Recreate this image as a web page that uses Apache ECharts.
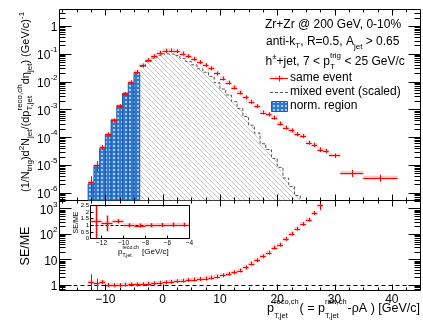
<!DOCTYPE html>
<html><head><meta charset="utf-8">
<script src="https://cdn.jsdelivr.net/npm/echarts@6/dist/echarts.min.js"></script>
<style>html,body{margin:0;padding:0;background:#fff}#c{width:423px;height:325px}</style>
</head><body><div id="c"></div>
<script>
// ---------------- DATA ----------------
// same-event spectrum: bin edges (GeV/c), values and stat. errors
const seBinLo = [-13,-12,-11,-10,-9,-8,-7,-6,-5,-4,-3,-2,-1,0,1,2,3,4,5,6,7,8,9,10,11,12,13,14,15,16,17,18,19,20,21,22,23,24,25,26,27,28,29,31,35];
const seBinHi = [-12,-11,-10,-9,-8,-7,-6,-5,-4,-3,-2,-1,0,1,2,3,4,5,6,7,8,9,10,11,12,13,14,15,16,17,18,19,20,21,22,23,24,25,26,27,28,29,31,35,41];
const seVal = [2.4e-6,9.8e-6,4.4e-5,1.26e-4,4.0e-4,1.3e-3,3.6e-3,9.5e-3,0.022,0.038,0.059,0.082,0.109,0.128,0.131,0.124,0.102,0.082,0.066,0.050,0.039,0.030,0.0196,0.0129,0.0091,0.0061,0.0040,0.0027,0.00188,0.00131,7.7e-4,6.6e-4,5.0e-4,3.1e-4,2.2e-4,1.75e-4,1.28e-4,1.09e-4,6.3e-5,5.3e-5,3.6e-5,3.2e-5,2.2e-5,5.2e-6,3.5e-6];
const seErr = [1.5e-6,4e-6,9e-6,1.5e-5,3e-5,6e-5,1.2e-4,2.5e-4,5e-4,7e-4,9e-4,1e-3,1.2e-3,1.3e-3,1.3e-3,1.2e-3,1.1e-3,9e-4,8e-4,7e-4,6e-4,5e-4,4e-4,3e-4,2.5e-4,2e-4,1.5e-4,1.2e-4,9e-5,7e-5,5e-5,4.5e-5,4e-5,3e-5,2.5e-5,2e-5,1.6e-5,1.4e-5,1.0e-5,9e-6,7e-6,6e-6,4e-6,1.5e-6,1.0e-6];
// mixed-event spectrum (scaled), 1 GeV bins from -13 to 25
const mixBinLo = [-13,-12,-11,-10,-9,-8,-7,-6,-5,-4,-3,-2,-1,0,1,2,3,4,5,6,7,8,9,10,11,12,13,14,15,16,17,18,19,20,21,22,23,24];
const mixVal = [2.1e-6,9.6e-6,3.8e-5,1.26e-4,4.2e-4,1.35e-3,3.8e-3,9.3e-3,0.021,0.035,0.053,0.070,0.089,0.100,0.098,0.088,0.069,0.053,0.040,0.029,0.0217,0.0154,0.0091,0.0054,0.0033,0.0019,0.00108,5.5e-4,2.7e-4,1.41e-4,5.8e-5,3.6e-5,1.72e-5,8.2e-6,3.4e-6,1.7e-6,8.0e-7,4.4e-7];
const mixBinWidth = 1;
const normLo = -13, normHi = -4;
// SE/ME ratio, 1 GeV bins from -13 to 28
const ratioBinLo = [-13,-12,-11,-10,-9,-8,-7,-6,-5,-4,-3,-2,-1,0,1,2,3,4,5,6,7,8,9,10,11,12,13,14,15,16,17,18,19,20,21,22,23,24,25,26,27];
const ratioVal = [1.3,1.15,1.3,1.0,0.98,1.0,1.03,1.05,1.05,1.08,1.12,1.17,1.22,1.28,1.34,1.41,1.48,1.56,1.64,1.72,1.8,1.95,2.15,2.4,2.75,3.15,3.7,4.9,6.9,9.3,13.3,18.5,29,38,64,103,161,246,362,660,1310];
const ratioErr = [1.35,0.6,0.15,0.06,0.04,0.03,0.03,0.03,0.03,0.03,0.03,0.03,0.03,0.03,0.03,0.03,0.03,0.04,0.04,0.04,0.05,0.05,0.06,0.07,0.08,0.1,0.13,0.18,0.26,0.4,0.6,0.9,1.6,2.4,4.5,8,14,22,40,110,450];
const ratioBinWidth = 1;
// axis ticks
const xMajorTicks = [-10,0,10,20,30,40];
const xMinorTicks = [-17.5,-15,-12.5,-7.5,-5,-2.5,2.5,5,7.5,12.5,15,17.5,22.5,25,27.5,32.5,35,37.5,42.5];

// ---------------- STYLE / LAYOUT ----------------
const FONT = '"Liberation Sans", Arial, Helvetica, sans-serif';
const XMIN = -18, XMAX = 45;
const Y0MIN = 5.28e-7, Y0MAX = 3.92;
const Y1MIN = 0.61, Y1MAX = 2050;
const RED = '#ff0000';

function mkPattern(w, h, draw) {
  const c = document.createElement('canvas'); c.width = w; c.height = h;
  const g = c.getContext('2d'); draw(g, w, h);
  return { image: c, repeat: 'repeat' };
}
const bluePat = mkPattern(4, 4, g => {
  g.fillStyle = '#2f78d2'; g.fillRect(0, 0, 4, 4);
  g.fillStyle = '#a9cdf2'; g.fillRect(1, 1, 2, 2);
});
const grayPat = mkPattern(5, 5, g => {
  g.fillStyle = '#fff'; g.fillRect(0, 0, 5, 5);
  g.strokeStyle = '#b8b8b8'; g.lineWidth = 0.8;
  g.beginPath(); g.moveTo(-1, -1); g.lineTo(6, 6); g.moveTo(-1, 4); g.lineTo(1, 6); g.moveTo(4, -1); g.lineTo(6, 1); g.stroke();
});

const mctx = document.createElement('canvas').getContext('2d');
function tw(t, s) { mctx.font = s + 'px ' + FONT; return mctx.measureText(t).width; }
function layout(parts, x0, yb, align) {
  let x = 0; const els = [];
  parts.forEach(p => {
    if (p.t !== undefined) { els.push({ x, dy: p.dy || 0, t: p.t, s: p.s }); x += tw(p.t, p.s); }
    else {
      const w = Math.max(p.sub ? tw(p.sub, p.s) : 0, p.sup ? tw(p.sup, p.s) : 0);
      if (p.sub) els.push({ x, dy: p.dsub, t: p.sub, s: p.s });
      if (p.sup) els.push({ x, dy: p.dsup, t: p.sup, s: p.s });
      x += w + (p.gap || 0);
    }
  });
  const off = align === 'right' ? -x : align === 'center' ? -x / 2 : 0;
  return els.map(e => ({ type: 'text', x: x0 + off + e.x, y: yb + e.dy - 0.34 * e.s,
    style: { text: e.t, font: e.s + 'px ' + FONT, fill: '#000', textAlign: 'left', textVerticalAlign: 'middle' } }));
}

function powLabel(v) {
  const l = Math.log10(v), n = Math.round(l);
  if (Math.abs(l - n) > 1e-6) return '';
  if (n === 0) return '{b|1}';
  if (n === 1) return '{b|10}';
  return '{b|10}{s|' + n + '}';
}
const powRich = {
  b: { fontSize: 12, fontFamily: FONT, color: '#000', lineHeight: 16, verticalAlign: 'bottom' },
  s: { fontSize: 8, fontFamily: FONT, color: '#000', lineHeight: 9, verticalAlign: 'top' }
};
const minus = v => (v < 0 ? '\u2212' + (-v) : String(v));

function pointRender(yMin, yMax, lw) {
  return function (params, api) {
    const lo = api.value(0), hi = api.value(1), v = api.value(2), e = api.value(3);
    const c = api.coord([(lo + hi) / 2, v]);
    const xl = api.coord([lo, v])[0], xr = api.coord([hi, v])[0];
    const yt = api.coord([lo, Math.min(v + e, yMax)])[1];
    const yb = api.coord([lo, Math.max(v - e, yMin)])[1];
    const cy = Math.round(c[1]) + 0.5, cx = Math.round(c[0]) + 0.5;
    return { type: 'group', children: [
      { type: 'rect', shape: { x: xl, y: c[1] - 2, width: xr - xl, height: 4 }, style: { fill: 'rgba(255,0,0,0.22)' } },
      { type: 'line', shape: { x1: xl, y1: cy, x2: xr, y2: cy }, style: { stroke: RED, lineWidth: 1 } },
      { type: 'line', shape: { x1: cx, y1: Math.min(yt, c[1] - 2), x2: cx, y2: Math.max(yb, c[1] + 2) }, style: { stroke: RED, lineWidth: lw || 1 } }
    ] };
  };
}

function tickRender(ymin, ymax, majY, minY, majX, minX) {
  return function (params, api) {
    const kids = [];
    const L = (x1, y1, x2, y2) => kids.push({ type: 'line', shape: { x1, y1, x2, y2 }, style: { stroke: '#000', lineWidth: 1 } });
    const xl = api.coord([XMIN, ymin])[0], xr = api.coord([XMAX, ymin])[0];
    const yb = api.coord([XMIN, ymin])[1], yt = api.coord([XMIN, ymax])[1];
    for (let n = -8; n <= 4; n++) for (let k = 1; k <= 9; k++) {
      const v = k * Math.pow(10, n);
      if (v < ymin || v > ymax) continue;
      const y = Math.round(api.coord([XMIN, v])[1]) + 0.5;
      const len = k === 1 ? majY : minY;
      L(xl, y, xl + len, y); L(xr - len, y, xr, y);
    }
    xMajorTicks.forEach(t => { const x = Math.round(api.coord([t, ymin])[0]) + 0.5; L(x, yt, x, yt + majX); L(x, yb - majX, x, yb); });
    xMinorTicks.forEach(t => { const x = Math.round(api.coord([t, ymin])[0]) + 0.5; L(x, yt, x, yt + minX); L(x, yb - minX, x, yb); });
    return { type: 'group', children: kids };
  };
}

const seData = seBinLo.map((lo, i) => [lo, seBinHi[i], seVal[i], seErr[i]]);
const ratioData = ratioBinLo.map((lo, i) => [lo, lo + ratioBinWidth, ratioVal[i], ratioErr[i]]);
const insetData = ratioData.filter(d => d[0] >= normLo && d[1] <= normHi);
const mixData = mixBinLo.map((lo, i) => [lo, lo + mixBinWidth, mixVal[i]]);
const normData = mixData.filter(d => d[0] >= normLo && d[1] <= normHi);
const hatchData = mixData.filter(d => d[0] >= normHi);

const noAx = { axisLine: { show: false }, axisTick: { show: false }, splitLine: { show: false } };

const option = {
  animation: false,
  backgroundColor: '#fff',
  grid: [
    { left: 59.5, top: 9.5, width: 361, height: 191, show: true, borderColor: '#000', borderWidth: 1, backgroundColor: '#fff' },
    { left: 59.5, top: 200.5, width: 361, height: 90, show: true, borderColor: '#000', borderWidth: 1, backgroundColor: 'transparent' },
    { left: 90.5, top: 205.5, width: 99, height: 33, show: true, borderColor: '#000', borderWidth: 1, backgroundColor: '#fff' }
  ],
  xAxis: [
    Object.assign({ gridIndex: 0, type: 'value', min: XMIN, max: XMAX, axisLabel: { show: false } }, noAx),
    Object.assign({ gridIndex: 1, type: 'value', min: XMIN, max: XMAX,
      axisLabel: { show: true, fontSize: 12, fontFamily: FONT, color: '#000', margin: 3, showMinLabel: false, showMaxLabel: false,
        formatter: v => (Math.abs(v % 10) < 1e-9 ? minus(v) : '') } }, noAx),
    { gridIndex: 2, type: 'value', min: -13, max: -4, splitNumber: 4, axisLine: { show: false }, splitLine: { show: false },
      axisTick: { show: true, inside: true, length: 3, lineStyle: { color: '#000', width: 1 } },
      minorTick: { show: false },
      axisLabel: { fontSize: 6.5, fontFamily: FONT, color: '#000', margin: 1.5, showMinLabel: false, formatter: v => minus(v) } }
  ],
  yAxis: [
    Object.assign({ gridIndex: 0, type: 'log', logBase: 10, min: Y0MIN, max: Y0MAX,
      axisLabel: { margin: 2, formatter: powLabel, rich: powRich, showMinLabel: false, showMaxLabel: false } }, noAx),
    Object.assign({ gridIndex: 1, type: 'log', logBase: 10, min: Y1MIN, max: Y1MAX,
      axisLabel: { margin: 2, formatter: powLabel, rich: powRich, showMinLabel: false, showMaxLabel: false } }, noAx),
    { gridIndex: 2, type: 'value', min: 0, max: 2.5, interval: 0.5, axisLine: { show: false }, splitLine: { show: false },
      axisTick: { show: true, inside: true, length: 3, lineStyle: { color: '#000', width: 1 } },
      axisLabel: { fontSize: 6, lineHeight: 6, fontFamily: FONT, color: '#000', margin: 1.5, hideOverlap: false } }
  ],
  series: [
    // gray hatched mixed-event region
    { type: 'custom', xAxisIndex: 0, yAxisIndex: 0, clip: true, silent: true, data: hatchData, z: 1,
      renderItem: (p, api) => {
        const a = api.coord([api.value(0), Math.max(api.value(2), Y0MIN)]);
        const b = api.coord([api.value(1), Y0MIN]);
        return { type: 'rect', shape: { x: a[0], y: a[1], width: b[0] - a[0] + 0.3, height: b[1] - a[1] }, style: { fill: grayPat } };
      } },
    // dashed outline of mixed-event histogram
    { type: 'custom', xAxisIndex: 0, yAxisIndex: 0, clip: true, silent: true, data: [[0]], z: 2,
      renderItem: (p, api) => {
        const pts = [];
        hatchData.forEach(d => {
          const v = Math.max(d[2], Y0MIN * 0.5);
          pts.push(api.coord([d[0], v])); pts.push(api.coord([d[1], v]));
        });
        return { type: 'polyline', shape: { points: pts }, style: { stroke: '#555', lineWidth: 1, lineDash: [3, 2], fill: null } };
      } },
    // blue normalisation region
    { type: 'custom', xAxisIndex: 0, yAxisIndex: 0, clip: true, silent: true, data: normData, z: 3,
      renderItem: (p, api) => {
        const a = api.coord([api.value(0), api.value(2)]);
        const b = api.coord([api.value(1), Y0MIN]);
        return { type: 'rect', shape: { x: a[0], y: a[1], width: b[0] - a[0], height: b[1] - a[1] }, style: { fill: bluePat, stroke: '#1d5cae', lineWidth: 1 } };
      } },
    // same event points
    { type: 'custom', xAxisIndex: 0, yAxisIndex: 0, clip: true, silent: true, data: seData, z: 5, renderItem: pointRender(Y0MIN, Y0MAX) },
    // ratio points
    { type: 'custom', xAxisIndex: 1, yAxisIndex: 1, clip: true, silent: true, data: ratioData, z: 5, renderItem: pointRender(Y1MIN, Y1MAX) },
    // dashed unity line, bottom panel
    { type: 'custom', xAxisIndex: 1, yAxisIndex: 1, silent: true, data: [[0]], z: 4,
      renderItem: (p, api) => {
        const a = api.coord([XMIN, 1]), b = api.coord([XMAX, 1]); const y = Math.round(a[1]) + 0.5;
        return { type: 'line', shape: { x1: a[0], y1: y, x2: b[0], y2: y }, style: { stroke: '#000', lineWidth: 1, lineDash: [4, 3] } };
      } },
    // frame ticks
    { type: 'custom', xAxisIndex: 0, yAxisIndex: 0, silent: true, data: [[0]], z: 6, renderItem: tickRender(Y0MIN, Y0MAX, 12, 6, 6, 3) },
    { type: 'custom', xAxisIndex: 1, yAxisIndex: 1, silent: true, data: [[0]], z: 6, renderItem: tickRender(Y1MIN, Y1MAX, 12, 6, 6, 3) },
    // inset dashed line at 1
    { type: 'custom', xAxisIndex: 2, yAxisIndex: 2, silent: true, data: [[0]], z: 7,
      renderItem: (p, api) => {
        const a = api.coord([-13, 1]), b = api.coord([-4, 1]); const y = Math.round(a[1]) + 0.5;
        return { type: 'line', shape: { x1: a[0], y1: y, x2: b[0], y2: y }, style: { stroke: '#000', lineWidth: 1, lineDash: [3, 2] } };
      } },
    // inset ratio points
    { type: 'custom', xAxisIndex: 2, yAxisIndex: 2, clip: true, silent: true, data: insetData, z: 8, renderItem: pointRender(0, 2.5, 1.5) }
  ],
  graphic: []
};

// ---------------- TEXT ----------------
const G = option.graphic;
const T = (parts, x, y, align) => layout(parts, x, y, align).forEach(e => G.push(e));
T([{ t: 'Zr+Zr @ 200 GeV, 0-10%', s: 12 }], 265, 29);
T([{ t: 'anti-k', s: 12 }, { sub: 'T', s: 8, dsub: 3 }, { t: ', R=0.5, A', s: 12 }, { sub: 'jet', s: 8, dsub: 3.5 }, { t: ' > 0.65', s: 12 }], 266, 46);
T([{ t: 'h', s: 12 }, { sup: '\u00b1', s: 8, dsup: -6 }, { t: '+jet, 7 < p', s: 12 }, { sub: 'T', sup: 'trig', s: 8, dsub: 3.5, dsup: -7 }, { t: ' < 25 GeV/c', s: 12 }], 265.5, 66);
T([{ t: 'same event', s: 12 }], 290, 81.5);
T([{ t: 'mixed event (scaled)', s: 12 }], 290, 95.5);
T([{ t: 'norm. region', s: 12 }], 290, 109.5);
// legend symbols
G.push({ type: 'rect', shape: { x: 275, y: 76, width: 8, height: 4 }, style: { fill: 'rgba(255,0,0,0.22)' } });
G.push({ type: 'line', shape: { x1: 270, y1: 78.5, x2: 288, y2: 78.5 }, style: { stroke: RED, lineWidth: 1 } });
G.push({ type: 'line', shape: { x1: 279.5, y1: 75.5, x2: 279.5, y2: 81.5 }, style: { stroke: RED, lineWidth: 1 } });
G.push({ type: 'line', shape: { x1: 270, y1: 92.5, x2: 288, y2: 92.5 }, style: { stroke: '#555', lineWidth: 1, lineDash: [3, 2] } });
G.push({ type: 'rect', shape: { x: 271.5, y: 101.5, width: 16, height: 10 }, style: { fill: bluePat, stroke: '#1d5cae', lineWidth: 1 } });

// x-axis title
T([{ t: 'p', s: 12.5 }, { sub: 'T,jet', sup: 'reco,ch', s: 7.5, dsub: 5.5, dsup: -9, gap: 1 }, { t: '( = p', s: 12.5 },
   { sub: 'T,jet', sup: 'raw,ch', s: 7.5, dsub: 5.5, dsup: -9, gap: 1 }, { t: '-\u03c1A ) [GeV/c]', s: 12.5 }], 420, 313, 'right');
// y-axis title, top panel (rotated)
G.push({ type: 'group', x: 29.5, y: 192, rotation: Math.PI / 2,
  children: layout([{ t: '(1/N', s: 11 }, { sub: 'trig', s: 8, dsub: 3 }, { t: ')d', s: 11 }, { sup: '2', s: 8, dsup: -5 }, { t: 'N', s: 11 },
    { sub: 'jet', s: 8, dsub: 3 }, { t: '/(dp', s: 11 }, { sub: 'T,jet', sup: 'reco,ch', s: 8, dsub: 3.5, dsup: -7 }, { t: 'd\u03b7', s: 11 },
    { sub: 'jet', s: 8, dsub: 3 }, { t: ') (GeV/c)', s: 11 }, { sup: '-1', s: 8, dsup: -5 }], 0, 0, 'left') });
// y-axis title, ratio panel
G.push({ type: 'group', x: 30, y: 246, rotation: Math.PI / 2, children: layout([{ t: 'SE/ME', s: 12.5 }], 0, 0, 'center') });
// inset titles
T([{ t: 'p', s: 8 }, { sub: 'T,jet', sup: 'reco,ch', s: 5, dsub: 2.5, dsup: -5, gap: 1 }, { t: ' [GeV/c]', s: 8 }], 118, 254.5);
G.push({ type: 'group', x: 78, y: 222.5, rotation: Math.PI / 2, children: layout([{ t: 'SE/ME', s: 7 }], 0, 0, 'center') });

const chart = echarts.init(document.getElementById('c'), null, { renderer: 'canvas' });
chart.setOption(option);
</script>
</body></html>
